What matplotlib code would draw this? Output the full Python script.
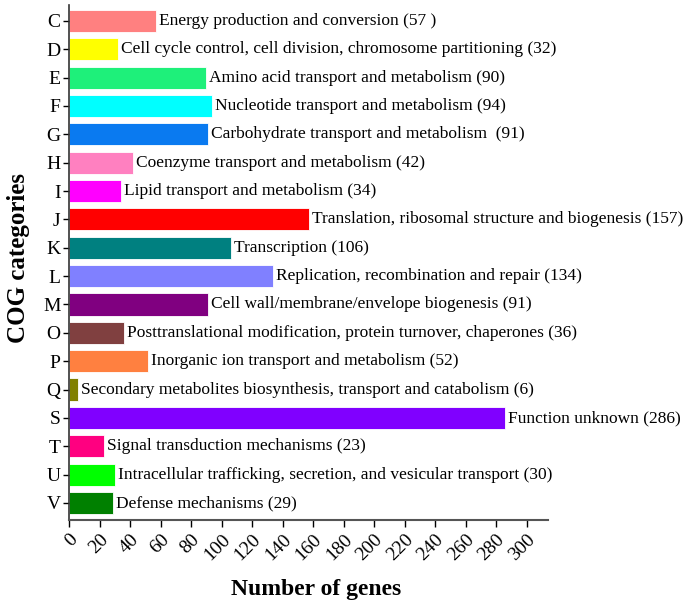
import matplotlib
matplotlib.use("Agg")
import matplotlib.pyplot as plt

categories = ["C", "D", "E", "F", "G", "H", "I", "J", "K", "L", "M", "O", "P", "Q", "S", "T", "U", "V"]
values = [57, 32, 90, 94, 91, 42, 34, 157, 106, 134, 91, 36, 52, 6, 286, 23, 30, 29]
descriptions = [
    "Energy production and conversion (57 )",
    "Cell cycle control, cell division, chromosome partitioning (32)",
    "Amino acid transport and metabolism (90)",
    "Nucleotide transport and metabolism (94)",
    "Carbohydrate transport and metabolism  (91)",
    "Coenzyme transport and metabolism (42)",
    "Lipid transport and metabolism (34)",
    "Translation, ribosomal structure and biogenesis (157)",
    "Transcription (106)",
    "Replication, recombination and repair (134)",
    "Cell wall/membrane/envelope biogenesis (91)",
    "Posttranslational modification, protein turnover, chaperones (36)",
    "Inorganic ion transport and metabolism (52)",
    "Secondary metabolites biosynthesis, transport and catabolism (6)",
    "Function unknown (286)",
    "Signal transduction mechanisms (23)",
    "Intracellular trafficking, secretion, and vesicular transport (30)",
    "Defense mechanisms (29)",
]
colors = ["#FF8080", "#FFFF00", "#1EF07A", "#00FFFF", "#0A7AF0", "#FF80C0", "#FF00FF",
          "#FF0000", "#008080", "#8080FF", "#800080", "#804040", "#FF8040", "#808000",
          "#8000FF", "#FF0080", "#00FF00", "#008000"]
xticks = list(range(0, 301, 20))

plt.rcParams['font.family'] = ['Liberation Serif', 'DejaVu Serif']

fig = plt.figure(figsize=(6.85, 6.06), dpi=100)
ax = fig.add_axes([69/685, 1 - 520/606, (548-69)/685, (520-5)/606])

ypos = list(range(len(categories)))
ax.barh(ypos, values, height=0.78, color=colors, edgecolor='white', linewidth=0.6)
for y, v, d in zip(ypos, values, descriptions):
    ax.text(v + 2, y, d, va='center', ha='left', fontsize=12.5)

ax.set_ylim(len(categories) - 1 + 0.6, -0.56)
ax.set_xlim(0, 314)
ax.set_yticks(ypos)
ax.set_yticklabels(categories, fontsize=14)
ax.set_xticks(xticks)
ax.set_xticklabels([str(t) for t in xticks], rotation=45, ha='right', rotation_mode='anchor', fontsize=14)
ax.tick_params(axis='x', direction='out', length=5, width=1, pad=3)
ax.tick_params(axis='y', direction='out', length=4, width=1, pad=2)
for s in ['top', 'right']:
    ax.spines[s].set_visible(False)
ax.spines['left'].set_color('#333333')
ax.spines['bottom'].set_color('#555555')
ax.spines['left'].set_linewidth(1.2)
ax.spines['bottom'].set_linewidth(1.5)

fig.text(316/685, 1 - 589/606, "Number of genes", ha='center', va='center', fontsize=17, fontweight='bold')
fig.text(19/685, 1 - 258/606, "COG categories", ha='center', va='center', rotation=90, fontsize=18, fontweight='bold')

fig.savefig("out.png", dpi=100)
